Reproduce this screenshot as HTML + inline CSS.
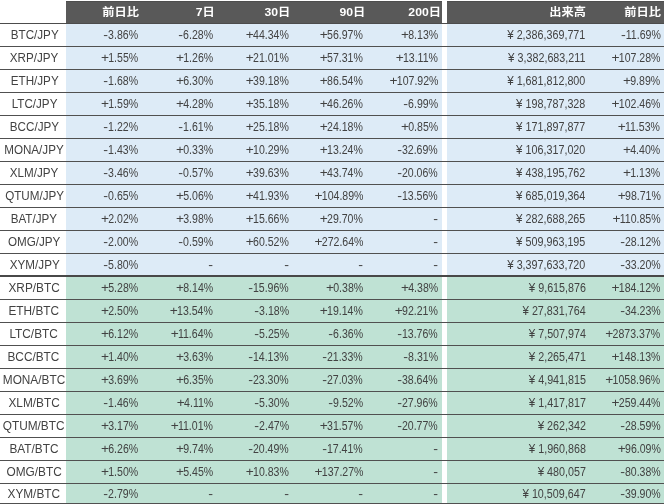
<!DOCTYPE html>
<html lang="ja"><head><meta charset="utf-8"><title>table</title>
<style>
html,body{margin:0;padding:0;background:#fff;}
body{width:664px;height:504px;overflow:hidden;position:relative;font-family:"Liberation Sans","Noto Sans CJK JP",sans-serif;}
#t{position:absolute;left:0;top:0;width:664px;height:504px;overflow:hidden;transform:translateZ(0);will-change:transform;}
.bg{position:absolute;}
.ln{position:absolute;left:0;width:664px;height:1px;background:#505050;}
.c{position:absolute;white-space:nowrap;font-size:12px;line-height:22px;height:22px;color:#424242;}
.r{text-align:right;}
.r span{display:inline-block;transform:scaleX(0.88);transform-origin:100% 50%;}
.r b{font-weight:normal;display:inline-block;margin-right:-0.9px;transform:scaleX(1.3);transform-origin:100% 50%;}
.r b.m{margin-right:0;transform:scaleX(1.35);}
.r i{font-style:normal;font-size:13px;line-height:1px;margin-right:0;}
.v span{transform:scaleX(0.895);}
.l{left:0.4px;width:66.6px;text-align:center;font-size:12.5px;}
.l span{display:inline-block;transform:scaleX(0.946);transform-origin:50% 50%;}
.lj{left:1px;}
.lj span{transform:scaleX(0.932);}
.h{position:absolute;top:2px;height:22px;line-height:21px;font-size:12px;font-weight:bold;color:#fff;text-align:right;white-space:nowrap;}
.h span{display:inline-block;transform:scale(1.02,0.95);transform-origin:100% 88%;}
</style></head><body><div id="t">

<div class="bg" style="left:66px;top:1px;width:376px;height:23px;background:#595959"></div>
<div class="bg" style="left:447px;top:1px;width:217px;height:23px;background:#595959"></div>
<div class="bg" style="left:66px;top:1px;width:376px;height:1px;background:#4e4e4e"></div>
<div class="bg" style="left:447px;top:1px;width:217px;height:1px;background:#4e4e4e"></div>
<div class="bg" style="left:66px;top:24px;width:598px;height:251px;background:#DDEBF7"></div>
<div class="bg" style="left:66px;top:277px;width:598px;height:227px;background:#BFE2D4"></div>
<div class="bg" style="left:442px;top:24px;width:5px;height:480px;background:#fff"></div>
<div class="ln" style="top:23px;background:#4c4c4c"></div>
<div class="ln" style="top:46px"></div>
<div class="ln" style="top:69px"></div>
<div class="ln" style="top:92px"></div>
<div class="ln" style="top:115px"></div>
<div class="ln" style="top:138px"></div>
<div class="ln" style="top:161px"></div>
<div class="ln" style="top:184px"></div>
<div class="ln" style="top:207px"></div>
<div class="ln" style="top:230px"></div>
<div class="ln" style="top:253px"></div>
<div class="ln" style="top:275px;height:2px;background:#484848"></div>
<div class="ln" style="top:299px"></div>
<div class="ln" style="top:322px"></div>
<div class="ln" style="top:345px"></div>
<div class="ln" style="top:368px"></div>
<div class="ln" style="top:391px"></div>
<div class="ln" style="top:414px"></div>
<div class="ln" style="top:437px"></div>
<div class="ln" style="top:460px"></div>
<div class="ln" style="top:483px"></div>
<div class="ln" style="top:503px"></div>
<div class="h" style="left:39.2px;width:100px"><span>前日比</span></div>
<div class="h" style="left:114.7px;width:100px"><span>7日</span></div>
<div class="h" style="left:190.7px;width:100px"><span>30日</span></div>
<div class="h" style="left:265.7px;width:100px"><span>90日</span></div>
<div class="h" style="left:341.2px;width:100px"><span>200日</span></div>
<div class="h" style="left:485.7px;width:100px"><span>出来高</span></div>
<div class="h" style="left:561.3px;width:100px"><span>前日比</span></div>
<div class="c l lj" style="top:24px"><span>BTC/JPY</span></div>
<div class="c r" style="top:24px;left:-1.9px;width:140px"><span><b class="m">-</b>3.86%</span></div>
<div class="c r" style="top:24px;left:73.1px;width:140px"><span><b class="m">-</b>6.28%</span></div>
<div class="c r" style="top:24px;left:148.7px;width:140px"><span><b>+</b>44.34%</span></div>
<div class="c r" style="top:24px;left:223px;width:140px"><span><b>+</b>56.97%</span></div>
<div class="c r" style="top:24px;left:298px;width:140px"><span><b>+</b>8.13%</span></div>
<div class="c r v" style="top:24px;left:445.7px;width:140px"><span><i>¥</i> 2,386,369,771</span></div>
<div class="c r" style="top:24px;left:520.4px;width:140px"><span><b class="m">-</b>11.69%</span></div>
<div class="c l lj" style="top:47px"><span>XRP/JPY</span></div>
<div class="c r" style="top:47px;left:-1.9px;width:140px"><span><b>+</b>1.55%</span></div>
<div class="c r" style="top:47px;left:73.1px;width:140px"><span><b>+</b>1.26%</span></div>
<div class="c r" style="top:47px;left:148.7px;width:140px"><span><b>+</b>21.01%</span></div>
<div class="c r" style="top:47px;left:223px;width:140px"><span><b>+</b>57.31%</span></div>
<div class="c r" style="top:47px;left:298px;width:140px"><span><b>+</b>13.11%</span></div>
<div class="c r v" style="top:47px;left:445.7px;width:140px"><span><i>¥</i> 3,382,683,211</span></div>
<div class="c r" style="top:47px;left:520.4px;width:140px"><span><b>+</b>107.28%</span></div>
<div class="c l lj" style="top:70px"><span>ETH/JPY</span></div>
<div class="c r" style="top:70px;left:-1.9px;width:140px"><span><b class="m">-</b>1.68%</span></div>
<div class="c r" style="top:70px;left:73.1px;width:140px"><span><b>+</b>6.30%</span></div>
<div class="c r" style="top:70px;left:148.7px;width:140px"><span><b>+</b>39.18%</span></div>
<div class="c r" style="top:70px;left:223px;width:140px"><span><b>+</b>86.54%</span></div>
<div class="c r" style="top:70px;left:298px;width:140px"><span><b>+</b>107.92%</span></div>
<div class="c r v" style="top:70px;left:445.7px;width:140px"><span><i>¥</i> 1,681,812,800</span></div>
<div class="c r" style="top:70px;left:520.4px;width:140px"><span><b>+</b>9.89%</span></div>
<div class="c l lj" style="top:93px"><span>LTC/JPY</span></div>
<div class="c r" style="top:93px;left:-1.9px;width:140px"><span><b>+</b>1.59%</span></div>
<div class="c r" style="top:93px;left:73.1px;width:140px"><span><b>+</b>4.28%</span></div>
<div class="c r" style="top:93px;left:148.7px;width:140px"><span><b>+</b>35.18%</span></div>
<div class="c r" style="top:93px;left:223px;width:140px"><span><b>+</b>46.26%</span></div>
<div class="c r" style="top:93px;left:298px;width:140px"><span><b class="m">-</b>6.99%</span></div>
<div class="c r v" style="top:93px;left:445.7px;width:140px"><span><i>¥</i> 198,787,328</span></div>
<div class="c r" style="top:93px;left:520.4px;width:140px"><span><b>+</b>102.46%</span></div>
<div class="c l lj" style="top:116px"><span>BCC/JPY</span></div>
<div class="c r" style="top:116px;left:-1.9px;width:140px"><span><b class="m">-</b>1.22%</span></div>
<div class="c r" style="top:116px;left:73.1px;width:140px"><span><b class="m">-</b>1.61%</span></div>
<div class="c r" style="top:116px;left:148.7px;width:140px"><span><b>+</b>25.18%</span></div>
<div class="c r" style="top:116px;left:223px;width:140px"><span><b>+</b>24.18%</span></div>
<div class="c r" style="top:116px;left:298px;width:140px"><span><b>+</b>0.85%</span></div>
<div class="c r v" style="top:116px;left:445.7px;width:140px"><span><i>¥</i> 171,897,877</span></div>
<div class="c r" style="top:116px;left:520.4px;width:140px"><span><b>+</b>11.53%</span></div>
<div class="c l lj" style="top:139px"><span>MONA/JPY</span></div>
<div class="c r" style="top:139px;left:-1.9px;width:140px"><span><b class="m">-</b>1.43%</span></div>
<div class="c r" style="top:139px;left:73.1px;width:140px"><span><b>+</b>0.33%</span></div>
<div class="c r" style="top:139px;left:148.7px;width:140px"><span><b>+</b>10.29%</span></div>
<div class="c r" style="top:139px;left:223px;width:140px"><span><b>+</b>13.24%</span></div>
<div class="c r" style="top:139px;left:298px;width:140px"><span><b class="m">-</b>32.69%</span></div>
<div class="c r v" style="top:139px;left:445.7px;width:140px"><span><i>¥</i> 106,317,020</span></div>
<div class="c r" style="top:139px;left:520.4px;width:140px"><span><b>+</b>4.40%</span></div>
<div class="c l lj" style="top:162px"><span>XLM/JPY</span></div>
<div class="c r" style="top:162px;left:-1.9px;width:140px"><span><b class="m">-</b>3.46%</span></div>
<div class="c r" style="top:162px;left:73.1px;width:140px"><span><b class="m">-</b>0.57%</span></div>
<div class="c r" style="top:162px;left:148.7px;width:140px"><span><b>+</b>39.63%</span></div>
<div class="c r" style="top:162px;left:223px;width:140px"><span><b>+</b>43.74%</span></div>
<div class="c r" style="top:162px;left:298px;width:140px"><span><b class="m">-</b>20.06%</span></div>
<div class="c r v" style="top:162px;left:445.7px;width:140px"><span><i>¥</i> 438,195,762</span></div>
<div class="c r" style="top:162px;left:520.4px;width:140px"><span><b>+</b>1.13%</span></div>
<div class="c l lj" style="top:185px"><span>QTUM/JPY</span></div>
<div class="c r" style="top:185px;left:-1.9px;width:140px"><span><b class="m">-</b>0.65%</span></div>
<div class="c r" style="top:185px;left:73.1px;width:140px"><span><b>+</b>5.06%</span></div>
<div class="c r" style="top:185px;left:148.7px;width:140px"><span><b>+</b>41.93%</span></div>
<div class="c r" style="top:185px;left:223px;width:140px"><span><b>+</b>104.89%</span></div>
<div class="c r" style="top:185px;left:298px;width:140px"><span><b class="m">-</b>13.56%</span></div>
<div class="c r v" style="top:185px;left:445.7px;width:140px"><span><i>¥</i> 685,019,364</span></div>
<div class="c r" style="top:185px;left:520.4px;width:140px"><span><b>+</b>98.71%</span></div>
<div class="c l lj" style="top:208px"><span>BAT/JPY</span></div>
<div class="c r" style="top:208px;left:-1.9px;width:140px"><span><b>+</b>2.02%</span></div>
<div class="c r" style="top:208px;left:73.1px;width:140px"><span><b>+</b>3.98%</span></div>
<div class="c r" style="top:208px;left:148.7px;width:140px"><span><b>+</b>15.66%</span></div>
<div class="c r" style="top:208px;left:223px;width:140px"><span><b>+</b>29.70%</span></div>
<div class="c r" style="top:208px;left:298px;width:140px"><span><b class="m">-</b></span></div>
<div class="c r v" style="top:208px;left:445.7px;width:140px"><span><i>¥</i> 282,688,265</span></div>
<div class="c r" style="top:208px;left:520.4px;width:140px"><span><b>+</b>110.85%</span></div>
<div class="c l lj" style="top:231px"><span>OMG/JPY</span></div>
<div class="c r" style="top:231px;left:-1.9px;width:140px"><span><b class="m">-</b>2.00%</span></div>
<div class="c r" style="top:231px;left:73.1px;width:140px"><span><b class="m">-</b>0.59%</span></div>
<div class="c r" style="top:231px;left:148.7px;width:140px"><span><b>+</b>60.52%</span></div>
<div class="c r" style="top:231px;left:223px;width:140px"><span><b>+</b>272.64%</span></div>
<div class="c r" style="top:231px;left:298px;width:140px"><span><b class="m">-</b></span></div>
<div class="c r v" style="top:231px;left:445.7px;width:140px"><span><i>¥</i> 509,963,195</span></div>
<div class="c r" style="top:231px;left:520.4px;width:140px"><span><b class="m">-</b>28.12%</span></div>
<div class="c l lj" style="top:254px"><span>XYM/JPY</span></div>
<div class="c r" style="top:254px;left:-1.9px;width:140px"><span><b class="m">-</b>5.80%</span></div>
<div class="c r" style="top:254px;left:73.1px;width:140px"><span><b class="m">-</b></span></div>
<div class="c r" style="top:254px;left:148.7px;width:140px"><span><b class="m">-</b></span></div>
<div class="c r" style="top:254px;left:223px;width:140px"><span><b class="m">-</b></span></div>
<div class="c r" style="top:254px;left:298px;width:140px"><span><b class="m">-</b></span></div>
<div class="c r v" style="top:254px;left:445.7px;width:140px"><span><i>¥</i> 3,397,633,720</span></div>
<div class="c r" style="top:254px;left:520.4px;width:140px"><span><b class="m">-</b>33.20%</span></div>
<div class="c l" style="top:277px"><span>XRP/BTC</span></div>
<div class="c r" style="top:277px;left:-1.9px;width:140px"><span><b>+</b>5.28%</span></div>
<div class="c r" style="top:277px;left:73.1px;width:140px"><span><b>+</b>8.14%</span></div>
<div class="c r" style="top:277px;left:148.7px;width:140px"><span><b class="m">-</b>15.96%</span></div>
<div class="c r" style="top:277px;left:223px;width:140px"><span><b>+</b>0.38%</span></div>
<div class="c r" style="top:277px;left:298px;width:140px"><span><b>+</b>4.38%</span></div>
<div class="c r v" style="top:277px;left:445.7px;width:140px"><span><i>¥</i> 9,615,876</span></div>
<div class="c r" style="top:277px;left:520.4px;width:140px"><span><b>+</b>184.12%</span></div>
<div class="c l" style="top:300px"><span>ETH/BTC</span></div>
<div class="c r" style="top:300px;left:-1.9px;width:140px"><span><b>+</b>2.50%</span></div>
<div class="c r" style="top:300px;left:73.1px;width:140px"><span><b>+</b>13.54%</span></div>
<div class="c r" style="top:300px;left:148.7px;width:140px"><span><b class="m">-</b>3.18%</span></div>
<div class="c r" style="top:300px;left:223px;width:140px"><span><b>+</b>19.14%</span></div>
<div class="c r" style="top:300px;left:298px;width:140px"><span><b>+</b>92.21%</span></div>
<div class="c r v" style="top:300px;left:445.7px;width:140px"><span><i>¥</i> 27,831,764</span></div>
<div class="c r" style="top:300px;left:520.4px;width:140px"><span><b class="m">-</b>34.23%</span></div>
<div class="c l" style="top:323px"><span>LTC/BTC</span></div>
<div class="c r" style="top:323px;left:-1.9px;width:140px"><span><b>+</b>6.12%</span></div>
<div class="c r" style="top:323px;left:73.1px;width:140px"><span><b>+</b>11.64%</span></div>
<div class="c r" style="top:323px;left:148.7px;width:140px"><span><b class="m">-</b>5.25%</span></div>
<div class="c r" style="top:323px;left:223px;width:140px"><span><b class="m">-</b>6.36%</span></div>
<div class="c r" style="top:323px;left:298px;width:140px"><span><b class="m">-</b>13.76%</span></div>
<div class="c r v" style="top:323px;left:445.7px;width:140px"><span><i>¥</i> 7,507,974</span></div>
<div class="c r" style="top:323px;left:520.4px;width:140px"><span><b>+</b>2873.37%</span></div>
<div class="c l" style="top:346px"><span>BCC/BTC</span></div>
<div class="c r" style="top:346px;left:-1.9px;width:140px"><span><b>+</b>1.40%</span></div>
<div class="c r" style="top:346px;left:73.1px;width:140px"><span><b>+</b>3.63%</span></div>
<div class="c r" style="top:346px;left:148.7px;width:140px"><span><b class="m">-</b>14.13%</span></div>
<div class="c r" style="top:346px;left:223px;width:140px"><span><b class="m">-</b>21.33%</span></div>
<div class="c r" style="top:346px;left:298px;width:140px"><span><b class="m">-</b>8.31%</span></div>
<div class="c r v" style="top:346px;left:445.7px;width:140px"><span><i>¥</i> 2,265,471</span></div>
<div class="c r" style="top:346px;left:520.4px;width:140px"><span><b>+</b>148.13%</span></div>
<div class="c l" style="top:369px"><span>MONA/BTC</span></div>
<div class="c r" style="top:369px;left:-1.9px;width:140px"><span><b>+</b>3.69%</span></div>
<div class="c r" style="top:369px;left:73.1px;width:140px"><span><b>+</b>6.35%</span></div>
<div class="c r" style="top:369px;left:148.7px;width:140px"><span><b class="m">-</b>23.30%</span></div>
<div class="c r" style="top:369px;left:223px;width:140px"><span><b class="m">-</b>27.03%</span></div>
<div class="c r" style="top:369px;left:298px;width:140px"><span><b class="m">-</b>38.64%</span></div>
<div class="c r v" style="top:369px;left:445.7px;width:140px"><span><i>¥</i> 4,941,815</span></div>
<div class="c r" style="top:369px;left:520.4px;width:140px"><span><b>+</b>1058.96%</span></div>
<div class="c l" style="top:392px"><span>XLM/BTC</span></div>
<div class="c r" style="top:392px;left:-1.9px;width:140px"><span><b class="m">-</b>1.46%</span></div>
<div class="c r" style="top:392px;left:73.1px;width:140px"><span><b>+</b>4.11%</span></div>
<div class="c r" style="top:392px;left:148.7px;width:140px"><span><b class="m">-</b>5.30%</span></div>
<div class="c r" style="top:392px;left:223px;width:140px"><span><b class="m">-</b>9.52%</span></div>
<div class="c r" style="top:392px;left:298px;width:140px"><span><b class="m">-</b>27.96%</span></div>
<div class="c r v" style="top:392px;left:445.7px;width:140px"><span><i>¥</i> 1,417,817</span></div>
<div class="c r" style="top:392px;left:520.4px;width:140px"><span><b>+</b>259.44%</span></div>
<div class="c l" style="top:415px"><span>QTUM/BTC</span></div>
<div class="c r" style="top:415px;left:-1.9px;width:140px"><span><b>+</b>3.17%</span></div>
<div class="c r" style="top:415px;left:73.1px;width:140px"><span><b>+</b>11.01%</span></div>
<div class="c r" style="top:415px;left:148.7px;width:140px"><span><b class="m">-</b>2.47%</span></div>
<div class="c r" style="top:415px;left:223px;width:140px"><span><b>+</b>31.57%</span></div>
<div class="c r" style="top:415px;left:298px;width:140px"><span><b class="m">-</b>20.77%</span></div>
<div class="c r v" style="top:415px;left:445.7px;width:140px"><span><i>¥</i> 262,342</span></div>
<div class="c r" style="top:415px;left:520.4px;width:140px"><span><b class="m">-</b>28.59%</span></div>
<div class="c l" style="top:438px"><span>BAT/BTC</span></div>
<div class="c r" style="top:438px;left:-1.9px;width:140px"><span><b>+</b>6.26%</span></div>
<div class="c r" style="top:438px;left:73.1px;width:140px"><span><b>+</b>9.74%</span></div>
<div class="c r" style="top:438px;left:148.7px;width:140px"><span><b class="m">-</b>20.49%</span></div>
<div class="c r" style="top:438px;left:223px;width:140px"><span><b class="m">-</b>17.41%</span></div>
<div class="c r" style="top:438px;left:298px;width:140px"><span><b class="m">-</b></span></div>
<div class="c r v" style="top:438px;left:445.7px;width:140px"><span><i>¥</i> 1,960,868</span></div>
<div class="c r" style="top:438px;left:520.4px;width:140px"><span><b>+</b>96.09%</span></div>
<div class="c l" style="top:461px"><span>OMG/BTC</span></div>
<div class="c r" style="top:461px;left:-1.9px;width:140px"><span><b>+</b>1.50%</span></div>
<div class="c r" style="top:461px;left:73.1px;width:140px"><span><b>+</b>5.45%</span></div>
<div class="c r" style="top:461px;left:148.7px;width:140px"><span><b>+</b>10.83%</span></div>
<div class="c r" style="top:461px;left:223px;width:140px"><span><b>+</b>137.27%</span></div>
<div class="c r" style="top:461px;left:298px;width:140px"><span><b class="m">-</b></span></div>
<div class="c r v" style="top:461px;left:445.7px;width:140px"><span><i>¥</i> 480,057</span></div>
<div class="c r" style="top:461px;left:520.4px;width:140px"><span><b class="m">-</b>80.38%</span></div>
<div class="c l" style="top:485px;height:19px;line-height:19px"><span>XYM/BTC</span></div>
<div class="c r" style="top:485px;left:-1.9px;width:140px;height:19px;line-height:19px"><span><b class="m">-</b>2.79%</span></div>
<div class="c r" style="top:485px;left:73.1px;width:140px;height:19px;line-height:19px"><span><b class="m">-</b></span></div>
<div class="c r" style="top:485px;left:148.7px;width:140px;height:19px;line-height:19px"><span><b class="m">-</b></span></div>
<div class="c r" style="top:485px;left:223px;width:140px;height:19px;line-height:19px"><span><b class="m">-</b></span></div>
<div class="c r" style="top:485px;left:298px;width:140px;height:19px;line-height:19px"><span><b class="m">-</b></span></div>
<div class="c r v" style="top:485px;left:445.7px;width:140px;height:19px;line-height:19px"><span><i>¥</i> 10,509,647</span></div>
<div class="c r" style="top:485px;left:520.4px;width:140px;height:19px;line-height:19px"><span><b class="m">-</b>39.90%</span></div>
</div></body></html>
